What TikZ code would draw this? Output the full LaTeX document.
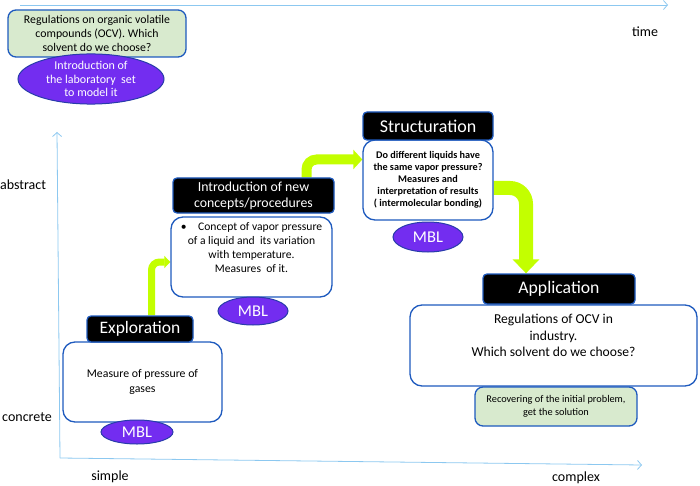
\documentclass[tikz,border=0pt]{standalone}
\usepackage{fontspec}
\setmainfont{Carlito}
\usetikzlibrary{arrows.meta,shapes.geometric,backgrounds}
\definecolor{axisblue}{RGB}{140,200,240}
\definecolor{boxblue}{RGB}{30,90,190}
\definecolor{mblpurple}{RGB}{115,45,240}
\definecolor{mblborder}{RGB}{40,60,170}
\definecolor{lightgreen}{RGB}{216,234,206}
\definecolor{arrowgreen}{RGB}{195,255,0}
\begin{document}
\begin{tikzpicture}[x=1pt,y=-1pt,
 header/.style={draw=boxblue, line width=1.3pt, fill=black, text=white, rounded corners=4pt, inner sep=0pt, align=center},
 body/.style={draw=boxblue, line width=1.3pt, fill=white, rounded corners=12pt, inner sep=0pt, align=center},
 mbl/.style={ellipse, draw=mblborder, line width=1pt, fill=mblpurple, text=white, inner sep=0pt, align=center},
 note/.style={draw=boxblue, line width=1.3pt, fill=lightgreen, rounded corners=8pt, inner sep=0pt, align=center},
 axisline/.style={draw=axisblue, line width=0.8pt, -{Straight Barb[length=4pt,width=9pt]}},
 flow/.style={draw=arrowgreen},
 lbl/.style={font=\fontsize{14}{16}\selectfont, inner sep=0pt}
]
\useasboundingbox (0,0) rectangle (700,486);

% axes
\coordinate (origin) at (60,458);
\coordinate (yend) at (57,132);
\coordinate (xend) at (642,465);
\coordinate (tstart) at (20,5);
\coordinate (tend) at (668,5);
\draw[axisline] (origin) -- (yend);
\draw[axisline] (origin) -- (xend);
\draw[axisline] (tstart) -- (tend);

\node[lbl] (ltime) at (645,32) {time};
\node[lbl] (labs) at (23,185) {abstract};
\node[lbl] (lcon) at (27,417) {concrete};
\node[lbl] (lsim) at (110,477) {simple};
\node[lbl] (lcom) at (576,478) {complex};

% top problem
\node[note, minimum width=178pt, minimum height=47pt, font=\fontsize{11.8}{14}\selectfont] (problem) at (97,33.5)
 {Regulations on organic volatile\\compounds (OCV). Which\\solvent do we choose?};
\node[mbl, minimum width=146pt, minimum height=50pt, font=\fontsize{12}{13.5}\selectfont] (labset) at (91,79)
 {Introduction of\\the laboratory\ \ set\\to model it};

% boxes (bodies first)
\node[body, minimum width=159pt, minimum height=80pt, font=\fontsize{11.8}{14.5}\selectfont] (expbody) at (142.5,382)
 {Measure of pressure of\\gases};
\node[body, minimum width=161pt, minimum height=80pt, font=\fontsize{11.6}{14}\selectfont] (introbody) at (251.5,257)
 {•\quad Concept of vapor pressure\\of a liquid and\ \ its variation\\with temperature.\\Measures\ \ of it.\\[4pt]};
\node[body, minimum width=130pt, minimum height=80pt, font=\bfseries\fontsize{10.2}{12}\selectfont] (structbody) at (428,180)
 {Do different liquids have\\the same vapor pressure?\\Measures and\\interpretation of results\\( intermolecular bonding)};
\node[body, minimum width=287pt, minimum height=81pt, font=\fontsize{13.6}{16.5}\selectfont] (appbody) at (553.5,345.5)
 {Regulations of OCV in\\industry.\\Which solvent do we choose?\\[3pt]};
\node[note, minimum width=162pt, minimum height=39pt, font=\fontsize{10.3}{13.5}\selectfont] (recover) at (556,406.5)
 {Recovering of the initial problem,\\get the solution};

% headers
\node[header, minimum width=106pt, minimum height=26pt, font=\fontsize{17.5}{19}\selectfont] (exphead) at (140,329) {Exploration};
\node[header, minimum width=161pt, minimum height=35pt, font=\fontsize{13.8}{16}\selectfont] (introhead) at (253.5,195.5) {Introduction of new\\concepts/procedures};
\node[header, minimum width=130pt, minimum height=28pt, font=\fontsize{18}{19}\selectfont] (structhead) at (428,126) {Structuration};
\node[header, minimum width=152pt, minimum height=30pt, font=\fontsize{17.7}{19}\selectfont] (apphead) at (559,289) {Application};

% MBL ellipses
\node[mbl, minimum width=72pt, minimum height=24pt, font=\fontsize{16.5}{18}\selectfont] (mbl1) at (137,432) {MBL};
\node[mbl, minimum width=70pt, minimum height=28pt, font=\fontsize{16.5}{18}\selectfont] (mbl2) at (253,311) {MBL};
\node[mbl, minimum width=70pt, minimum height=30pt, font=\fontsize{16.5}{18}\selectfont] (mbl3) at (428,237) {MBL};

% green flow arrows (behind the boxes)
\begin{pgfonlayer}{background}
\draw[flow, line width=7pt, rounded corners=8pt, -{Triangle[length=6pt,width=12pt]}]
 ([xshift=11.5pt]exphead.north) |- ([yshift=-5pt]introbody.west);
\draw[flow, line width=10pt, rounded corners=10pt, -{Triangle[length=9pt,width=19pt]}]
 ([xshift=53pt]introhead.north) |- ([yshift=20.5pt]structbody.west);
\draw[flow, line width=14pt, rounded corners=16pt, -{Triangle[length=14pt,width=26pt]}]
 ([yshift=-8pt]structbody.east) -| ([xshift=-33pt]apphead.north);
\end{pgfonlayer}
\end{tikzpicture}
\end{document}
